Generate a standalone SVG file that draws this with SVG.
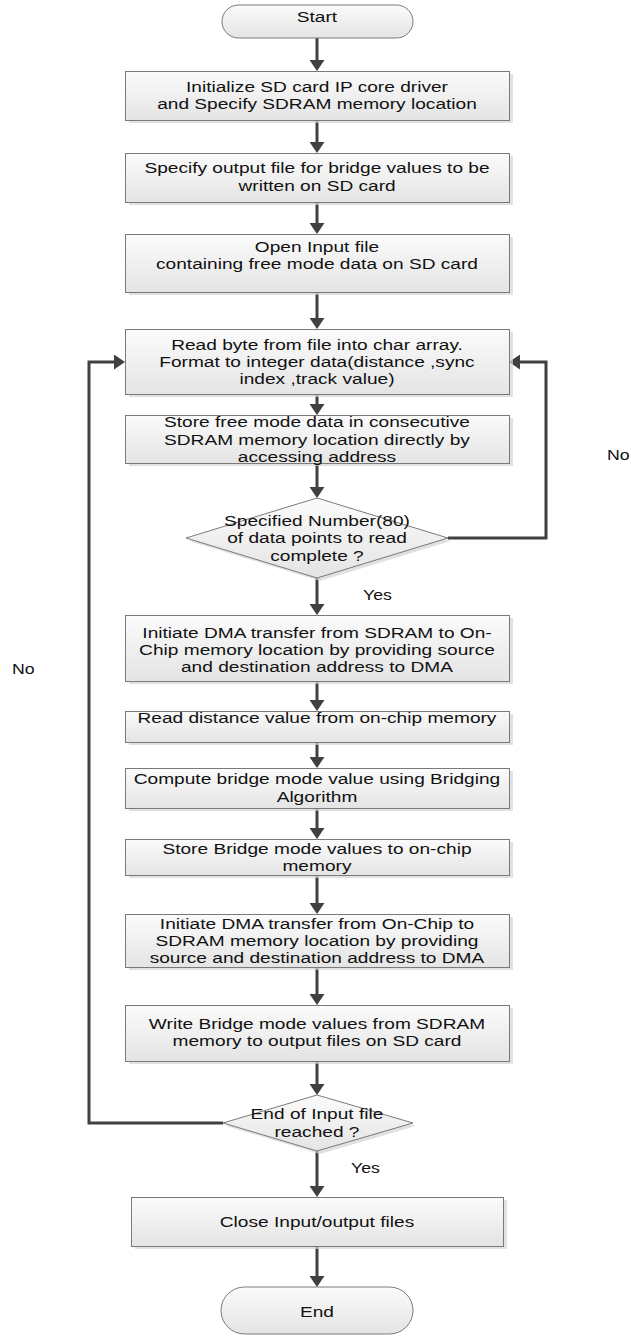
<svg xmlns="http://www.w3.org/2000/svg" width="631" height="1336" viewBox="0 0 631 1336">
<style>
.box{fill:url(#g);stroke:#7a7a7a;stroke-width:1}
.sh{fill:#d4d4d4;opacity:0.7}
.t{font-family:"Liberation Sans",Arial,sans-serif;font-size:15px;fill:#111;text-anchor:middle;transform-box:fill-box;transform-origin:center;transform:scaleX(1.275)}
.lbl{font-family:"Liberation Sans",Arial,sans-serif;font-size:15px;fill:#111;transform-box:fill-box;transform-origin:left;transform:scaleX(1.18)}
.c{fill:none;stroke:#404040;stroke-width:3}
.ca{fill:none;stroke:#404040;stroke-width:3;marker-end:url(#ah)}
</style>
<defs>
<linearGradient id="g" x1="0" y1="0" x2="0" y2="1">
<stop offset="0" stop-color="#fbfbfb"/>
<stop offset="1" stop-color="#e4e4e4"/>
</linearGradient>
<marker id="ah" markerUnits="userSpaceOnUse" markerWidth="11" markerHeight="15" viewBox="0 0 11 15" refX="3" refY="7.5" orient="auto">
<path d="M0,0 L11,7.5 L0,15 z" fill="#404040"/>
</marker>
</defs>
<rect width="631" height="1336" fill="#fff"/>

<g id="connectors">
<path class="ca" d="M317,38 V63"/>
<path class="ca" d="M317,120 V145"/>
<path class="ca" d="M317,202 V226"/>
<path class="ca" d="M317,292 V321"/>
<path class="ca" d="M317,394 V407"/>
<path class="ca" d="M317,463 V490"/>
<path class="ca" d="M317,578 V607"/>
<path class="ca" d="M317,681 V703"/>
<path class="ca" d="M317,742 V760"/>
<path class="ca" d="M317,808 V831"/>
<path class="ca" d="M317,875 V906"/>
<path class="ca" d="M317,967 V997"/>
<path class="ca" d="M317,1061 V1087"/>
<path class="ca" d="M317,1151 V1189"/>
<path class="ca" d="M317,1246 V1279"/>
<path class="ca" d="M448,538 H546 V362 H517"/>
<path class="ca" d="M223,1123 H89 V362 H117"/>
<text class="lbl" x="607" y="460">No</text>
<text class="lbl" x="12" y="674">No</text>
<text class="lbl" x="363" y="600">Yes</text>
<text class="lbl" x="351" y="1173">Yes</text>
</g>

<g id="start">
<rect x="222" y="5" width="191" height="33" rx="16.5" class="box"/>
<text class="t" x="317" y="22">Start</text>
</g>

<g id="init">
<rect x="129" y="74" width="384" height="49" class="sh"/>
<rect x="125.5" y="71.5" width="384" height="49" class="box"/>
<text class="t" x="317" y="92">Initialize SD card IP core driver</text>
<text class="t" x="317" y="109">and Specify SDRAM memory location</text>
</g>

<g id="outfile">
<rect x="129" y="156" width="384" height="49" class="sh"/>
<rect x="125.5" y="153.5" width="384" height="49" class="box"/>
<text class="t" x="317" y="173">Specify output file for bridge values to be</text>
<text class="t" x="317" y="191">written on SD card</text>
</g>

<g id="openinput">
<rect x="129" y="237" width="384" height="58" class="sh"/>
<rect x="125.5" y="234.5" width="384" height="58" class="box"/>
<text class="t" x="317" y="252">Open Input file</text>
<text class="t" x="317" y="269">containing free mode data on SD card</text>
</g>

<g id="readbyte">
<rect x="129" y="332" width="384" height="65" class="sh"/>
<rect x="125.5" y="329.5" width="384" height="65" class="box"/>
<text class="t" x="317" y="350">Read byte from file into char array.</text>
<text class="t" x="317" y="367">Format to integer data(distance ,sync</text>
<text class="t" x="317" y="384">index ,track value)</text>
</g>

<g id="storefree">
<rect x="129" y="418" width="384" height="48" class="sh"/>
<rect x="125.5" y="415.5" width="384" height="48" class="box"/>
<text class="t" x="317" y="427">Store free mode data in consecutive</text>
<text class="t" x="317" y="445">SDRAM memory location directly by</text>
<text class="t" x="317" y="462">accessing address</text>
</g>

<g id="decision1">
<polygon points="320,501 451,541 320,581 189,541" class="sh"/>
<polygon points="317,498 448,538 317,578 186,538" class="box"/>
<text class="t" x="317" y="526">Specified Number(80)</text>
<text class="t" x="317" y="543">of data points to read</text>
<text class="t" x="317" y="561">complete ?</text>
</g>

<g id="dma1">
<rect x="129" y="618" width="384" height="66" class="sh"/>
<rect x="125.5" y="615.5" width="384" height="66" class="box"/>
<text class="t" x="317" y="638">Initiate DMA transfer from SDRAM to On-</text>
<text class="t" x="317" y="655">Chip memory location by providing source</text>
<text class="t" x="317" y="672">and destination address to DMA</text>
</g>

<g id="readdist">
<rect x="129" y="714" width="384" height="31" class="sh"/>
<rect x="125.5" y="711.5" width="384" height="31" class="box"/>
<text class="t" x="317" y="723">Read distance value from on-chip memory</text>
</g>

<g id="compute">
<rect x="129" y="771" width="384" height="40" class="sh"/>
<rect x="125.5" y="768.5" width="384" height="40" class="box"/>
<text class="t" x="317" y="784">Compute bridge mode value using Bridging</text>
<text class="t" x="317" y="802">Algorithm</text>
</g>

<g id="storebridge">
<rect x="129" y="842" width="384" height="36" class="sh"/>
<rect x="125.5" y="839.5" width="384" height="36" class="box"/>
<text class="t" x="317" y="854">Store Bridge mode values to on-chip</text>
<text class="t" x="317" y="871">memory</text>
</g>

<g id="dma2">
<rect x="129" y="917" width="384" height="53" class="sh"/>
<rect x="125.5" y="914.5" width="384" height="53" class="box"/>
<text class="t" x="317" y="929">Initiate DMA transfer from On-Chip to</text>
<text class="t" x="317" y="946">SDRAM memory location by providing</text>
<text class="t" x="317" y="963">source  and destination address to DMA</text>
</g>

<g id="write">
<rect x="129" y="1008" width="384" height="56" class="sh"/>
<rect x="125.5" y="1005.5" width="384" height="56" class="box"/>
<text class="t" x="317" y="1029">Write Bridge mode values from SDRAM</text>
<text class="t" x="317" y="1046">memory to output files on SD card</text>
</g>

<g id="decision2">
<polygon points="320,1098 416,1126 320,1154 226,1126" class="sh"/>
<polygon points="317,1095 413,1123 317,1151 223,1123" class="box"/>
<text class="t" x="317" y="1119">End of Input file</text>
<text class="t" x="317" y="1137">reached ?</text>
</g>

<g id="close">
<rect x="135" y="1200" width="372" height="49" class="sh"/>
<rect x="131.5" y="1197.5" width="372" height="49" class="box"/>
<text class="t" x="317" y="1227">Close Input/output files</text>
</g>

<g id="end">
<rect x="221" y="1287" width="192" height="47" rx="23.5" class="box"/>
<text class="t" x="317" y="1317">End</text>
</g>
</svg>
